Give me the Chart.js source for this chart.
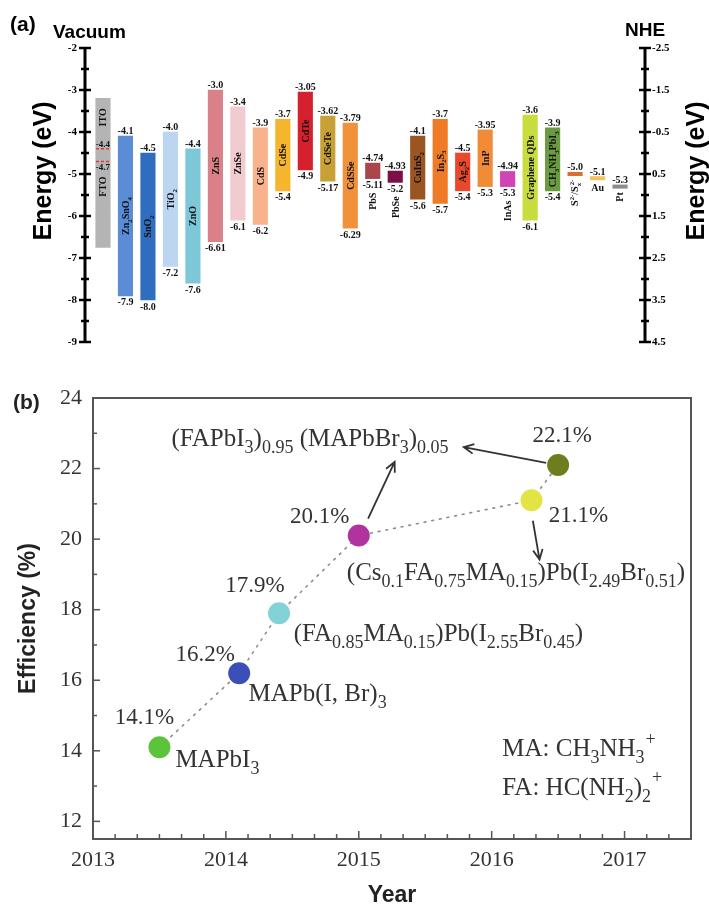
<!DOCTYPE html>
<html>
<head>
<meta charset="utf-8">
<script src="https://cdn.jsdelivr.net/npm/chart.js@4.4.1/dist/chart.umd.min.js"></script>
<style>
  html, body { margin: 0; padding: 0; background: #fff; }
  #wrap { position: relative; width: 709px; height: 905px; }
  #energyChart { position: absolute; left: 0; top: 0; }
  #effChart { position: absolute; left: 0; top: 360px; }
</style>
</head>
<body>
<div id="wrap">
  <canvas id="energyChart" width="709" height="360"></canvas>
  <canvas id="effChart" width="709" height="545"></canvas>
</div>
<script>
/*************************************************
 * DATA - panel (a): band edges vs vacuum (eV)
 *************************************************/
const materials = [
  "FTO/ITO", "Zn_{2}SnO_{4}", "SnO_{2}", "TiO_{2}", "ZnO", "ZnS", "ZnSe", "CdS",
  "CdSe", "CdTe", "CdSeTe", "CdSSe", "PbS", "PbSe", "CuInS_{2}", "In_{2}S_{3}",
  "Ag_{2}S", "InP", "InAs", "Graphene QDs", "CH_{3}NH_{3}PbI_{3}",
  "S^{2-}/S_{x}^{2-}", "Au", "Pt"
];
const bandTop = [
  -3.2, -4.1, -4.5, -4.0, -4.4, -3.0, -3.4, -3.9,
  -3.7, -3.05, -3.62, -3.79, -4.74, -4.93, -4.1, -3.7,
  -4.5, -3.95, -4.94, -3.6, -3.9, -5.0, -5.1, -5.3
];
// null = single level (redox couple / metal work function)
const bandBottom = [
  -6.75, -7.9, -8.0, -7.2, -7.6, -6.61, -6.1, -6.2,
  -5.4, -4.9, -5.17, -6.29, -5.11, -5.2, -5.6, -5.7,
  -5.4, -5.3, -5.3, -6.1, -5.4, null, null, null
];
const barColors = [
  "#b4b4b4", "#5a8dd6", "#2f6ebf", "#bcd5f1", "#7cc8d9", "#d98089", "#f1cbcf", "#f8b38d",
  "#f5b52d", "#d5212d", "#c8a136", "#f0913c", "#a8464b", "#7b1046", "#9a5523", "#f07b27",
  "#e8492c", "#f28b37", "#d243b3", "#c9dc3d", "#6b9b40", "#d8702f", "#f6c25e", "#8c8c8c"
];
const tcoNames = ["ITO", "FTO"];
const tcoLevels = [-4.4, -4.7];
const vacuumTicks = [-2, -3, -4, -5, -6, -7, -8, -9];
const nheTicks = [-2.5, -1.5, -0.5, 0.5, 1.5, 2.5, 3.5, 4.5];

/*************************************************
 * DATA - panel (b): record efficiencies
 *************************************************/
const years = [2013.5, 2014.1, 2014.4, 2015.0, 2016.3, 2016.5];
const efficiency = [14.1, 16.2, 17.9, 20.1, 21.1, 22.1];
const pointColors = ["#5cc43a", "#3c4fb8", "#82d2d6", "#b1339f", "#e2e445", "#6f7d20"];
const compositions = [
  "MAPbI_{3}",
  "MAPb(I, Br)_{3}",
  "(FA_{0.85}MA_{0.15})Pb(I_{2.55}Br_{0.45})",
  "(FAPbI_{3})_{0.95} (MAPbBr_{3})_{0.05}",
  "(Cs_{0.1}FA_{0.75}MA_{0.15})Pb(I_{2.49}Br_{0.51})"
];
const cationNotes = ["MA: CH_{3}NH_{3}^{+}", "FA: HC(NH_{2})_{2}^{+}"];
const yearTicks = [2013, 2014, 2015, 2016, 2017];
const effTicks = [12, 14, 16, 18, 20, 22, 24];


/*************************************************
 * TEXT HELPERS (sub/superscripts)
 *************************************************/
const SERIF = '"Liberation Serif", "DejaVu Serif", serif';
const SANS = '"Liberation Sans", Arial, sans-serif';

function richSegments(str) {
  const segs = [];
  const re = /([_^])\{([^}]*)\}/g;
  let last = 0, m;
  while ((m = re.exec(str))) {
    if (m.index > last) segs.push({ t: str.slice(last, m.index), k: "n" });
    segs.push({ t: m[2], k: m[1] === "_" ? "sub" : "sup" });
    last = re.lastIndex;
  }
  if (last < str.length) segs.push({ t: str.slice(last), k: "n" });
  return segs;
}

// a superscript right after a subscript is tucked over it (shift 0..1 of sub width)
function layoutRich(ctx, str, size, weight, ratio = 0.68, supShift = 0) {
  const items = [];
  let x = 0, prevSub = null;
  richSegments(str).forEach(s => {
    const sz = s.k === "n" ? size : size * ratio;
    ctx.font = `${weight} ${sz}px ${SERIF}`;
    const w = ctx.measureText(s.t).width;
    const stacked = s.k === "sup" && prevSub !== null;
    const sx = stacked ? prevSub.x + prevSub.w * supShift + 1 : x;
    const dy = s.k === "sub" ? size * 0.28 : s.k === "sup" ? -size * 0.45 : 0;
    items.push({ t: s.t, x: sx, dy, sz });
    x = stacked ? Math.max(x, sx + w) : sx + w;
    prevSub = s.k === "sub" ? { x: sx, w } : null;
  });
  return { items, width: x };
}

function drawRich(ctx, str, x, y, size, weight, align, ratio, supShift) {
  const lay = layoutRich(ctx, str, size, weight, ratio, supShift);
  const x0 = align === "center" ? x - lay.width / 2 : x;
  ctx.textAlign = "left";
  ctx.textBaseline = "alphabetic";
  lay.items.forEach(it => {
    ctx.font = `${weight} ${it.sz}px ${SERIF}`;
    ctx.fillText(it.t, x0 + it.x, y + it.dy);
  });
  return lay.width;
}

function drawRichUp(ctx, str, cx, cy, size) {
  ctx.save();
  ctx.translate(cx, cy);
  ctx.rotate(-Math.PI / 2);
  drawRich(ctx, str, 0, size * 0.34, size, "bold", "center");
  ctx.restore();
}

function verticalTitle(ctx, text, cx, cy, size) {
  ctx.save();
  ctx.translate(cx, cy);
  ctx.rotate(-Math.PI / 2);
  ctx.font = `bold ${size}px ${SANS}`;
  ctx.textAlign = "center";
  ctx.textBaseline = "middle";
  ctx.fillText(text, 0, 0);
  ctx.restore();
}

function fmtLevel(v) {
  return Math.round(Math.abs(v) * 100) % 10 === 0 ? v.toFixed(1) : v.toFixed(2);
}


/*************************************************
 * PANEL (a) - ENERGY LEVEL DIAGRAM
 *************************************************/
const LEVEL_HALF = 0.04;   // half thickness of single-level marks, eV

const energyDecor = {
  id: "energyDecor",
  afterDatasetsDraw(chart) {
    const { ctx, chartArea: area } = chart;
    const { x, y, nhe } = chart.scales;
    ctx.save();

    // axis lines with crossing ticks
    ctx.strokeStyle = "#000";
    [[area.left, y, vacuumTicks], [area.right, nhe, nheTicks]].forEach(([ax, sc, ticks]) => {
      ctx.lineWidth = 3;
      ctx.beginPath();
      ctx.moveTo(ax, sc.getPixelForValue(ticks[0]));
      ctx.lineTo(ax, sc.getPixelForValue(ticks[ticks.length - 1]));
      ctx.stroke();
      ctx.lineWidth = 2.5;
      ticks.forEach((v, k) => {
        const py = sc.getPixelForValue(v);
        ctx.beginPath(); ctx.moveTo(ax - 6, py); ctx.lineTo(ax + 6, py); ctx.stroke();
        if (k < ticks.length - 1) {
          const pm = sc.getPixelForValue((v + ticks[k + 1]) / 2);
          ctx.beginPath(); ctx.moveTo(ax - 4, pm); ctx.lineTo(ax + 4, pm); ctx.stroke();
        }
      });
    });

    // band edge values and names
    ctx.fillStyle = "#111";
    materials.forEach((name, i) => {
      if (i === 0) return;
      const cx = x.getPixelForValue(i);
      const isLevel = bandBottom[i] === null;
      const topPx = y.getPixelForValue(bandTop[i] + (isLevel ? LEVEL_HALF : 0));
      ctx.font = `bold 10px ${SERIF}`;
      ctx.textAlign = "center";
      ctx.textBaseline = "alphabetic";
      ctx.fillText(fmtLevel(bandTop[i]), cx, topPx - 2);

      let belowPx;
      if (isLevel) {
        belowPx = y.getPixelForValue(bandTop[i] - LEVEL_HALF) + 4;
      } else {
        const botPx = y.getPixelForValue(bandBottom[i]);
        ctx.textBaseline = "top";
        ctx.fillText(fmtLevel(bandBottom[i]), cx, botPx + 2);
        belowPx = botPx + 14;
        if (bandTop[i] - bandBottom[i] >= 0.6) {
          drawRichUp(ctx, name, cx, (topPx + botPx) / 2, 10);
          return;
        }
      }
      if (name === "Au") {
        ctx.font = `bold 10px ${SERIF}`;
        ctx.textAlign = "center";
        ctx.textBaseline = "top";
        ctx.fillText(name, cx, belowPx);
      } else {
        const w = layoutRich(ctx, name, 10, "bold").width;
        drawRichUp(ctx, name, cx, belowPx + w / 2, 10);
      }
    });

    // FTO / ITO work functions
    const c0 = x.getPixelForValue(0);
    ctx.strokeStyle = "#e8383d";
    ctx.lineWidth = 1.5;
    ctx.setLineDash([3, 2]);
    tcoLevels.forEach(v => {
      const py = y.getPixelForValue(v);
      ctx.beginPath(); ctx.moveTo(c0 - 7, py); ctx.lineTo(c0 + 7, py); ctx.stroke();
    });
    ctx.setLineDash([]);
    ctx.fillStyle = "#111";
    ctx.font = `bold 9px ${SERIF}`;
    ctx.textAlign = "center";
    ctx.textBaseline = "alphabetic";
    ctx.fillText(fmtLevel(tcoLevels[0]), c0, y.getPixelForValue(tcoLevels[0]) - 2);
    ctx.textBaseline = "top";
    ctx.fillText(fmtLevel(tcoLevels[1]), c0, y.getPixelForValue(tcoLevels[1]) + 2);
    drawRichUp(ctx, tcoNames[0], c0, y.getPixelForValue(tcoLevels[0] + 0.75), 10);
    drawRichUp(ctx, tcoNames[1], c0, y.getPixelForValue(tcoLevels[1] - 0.6), 10);

    // headings and axis titles
    ctx.fillStyle = "#000";
    ctx.textAlign = "left";
    ctx.textBaseline = "alphabetic";
    ctx.font = `bold 21px ${SANS}`;
    ctx.fillText("(a)", 10, 31);
    ctx.font = `bold 19px ${SANS}`;
    ctx.fillText("Vacuum", 53, 38);
    ctx.fillText("NHE", 625, 36);
    verticalTitle(ctx, "Energy (eV)", 44, 171, 25);
    verticalTitle(ctx, "Energy (eV)", 697, 171, 25);
    ctx.restore();
  }
};

const energyBars = materials.map((_, i) => ({
  x: i,
  y: bandBottom[i] === null
    ? [bandTop[i] - LEVEL_HALF, bandTop[i] + LEVEL_HALF]
    : [bandBottom[i], bandTop[i]]
}));

new Chart(document.getElementById("energyChart"), {
  type: "bar",
  data: {
    datasets: [{
      data: energyBars,
      backgroundColor: barColors,
      borderWidth: 0,
      barThickness: 14.5
    }]
  },
  options: {
    responsive: false,
    animation: false,
    layout: { padding: { top: 48, bottom: 18, left: 0, right: 0 } },
    plugins: { legend: { display: false }, tooltip: { enabled: false } },
    scales: {
      x: { type: "linear", display: false, offset: false, min: -0.8, max: 24.11 },
      y: {
        type: "linear", position: "left", min: -9, max: -2,
        grid: { display: false, drawTicks: false },
        border: { display: false },
        afterBuildTicks: s => { s.ticks = vacuumTicks.map(v => ({ value: v })); },
        ticks: {
          padding: 8, color: "#000",
          font: { family: SERIF, weight: "bold", size: 11 },
          callback: v => String(v)
        },
        afterFit: s => { s.width = 85; }
      },
      nhe: {
        type: "linear", position: "right", min: -2.5, max: 4.5, reverse: true,
        grid: { display: false, drawTicks: false },
        border: { display: false },
        afterBuildTicks: s => { s.ticks = nheTicks.map(v => ({ value: v })); },
        ticks: {
          padding: 7, color: "#000",
          font: { family: SERIF, weight: "bold", size: 11 },
          callback: v => v.toFixed(1)
        },
        afterFit: s => { s.width = 64; }
      }
    }
  },
  plugins: [energyDecor]
});


/*************************************************
 * PANEL (b) - EFFICIENCY VS YEAR
 *************************************************/
// percent labels: pixel offset of text centre/baseline from its point
const pctOffsets = [[-15, -23], [-34, -12], [-24, -21], [-39, -13], [47, 22], [4, -23]];
// composition labels: left/baseline in data units [year, efficiency]
const compositionAt = [[2013.62, 13.53], [2014.17, 15.4], [2014.51, 17.12], [2013.59, 22.64], [2014.91, 18.85]];
const cationAt = [[2016.08, 13.84], [2016.08, 12.76]];
const arrows = [
  [[2015.07, 20.58], [2015.27, 22.19]],
  [[2016.41, 22.16], [2015.79, 22.61]],
  [[2016.31, 20.52], [2016.36, 19.42]]
];

function drawArrow(ctx, x1, y1, x2, y2) {
  const a = Math.atan2(y2 - y1, x2 - x1);
  ctx.beginPath();
  ctx.moveTo(x1, y1); ctx.lineTo(x2, y2);
  ctx.moveTo(x2 - 11 * Math.cos(a - 0.45), y2 - 11 * Math.sin(a - 0.45));
  ctx.lineTo(x2, y2);
  ctx.lineTo(x2 - 11 * Math.cos(a + 0.45), y2 - 11 * Math.sin(a + 0.45));
  ctx.stroke();
}

const effDecor = {
  id: "effDecor",
  afterDraw(chart) {
    const { ctx, chartArea: area } = chart;
    const { x, y } = chart.scales;
    ctx.save();

    // frame and inward ticks
    ctx.strokeStyle = "#555";
    ctx.lineWidth = 2;
    ctx.strokeRect(area.left, area.top, area.right - area.left, area.bottom - area.top);
    ctx.lineWidth = 1.5;
    for (let v = 12; v < 24; v++) {
      const py = y.getPixelForValue(v);
      const len = v % 2 === 0 ? 7 : 4;
      ctx.beginPath(); ctx.moveTo(area.left, py); ctx.lineTo(area.left + len, py); ctx.stroke();
    }
    for (let k = 1; 2013 + k / 6 < 2017.5; k++) {
      const px = x.getPixelForValue(2013 + k / 6);
      const len = k % 6 === 0 ? 8 : 5;
      ctx.beginPath(); ctx.moveTo(px, area.bottom); ctx.lineTo(px, area.bottom - len); ctx.stroke();
    }

    // labels
    ctx.fillStyle = "#333";
    efficiency.forEach((v, i) => {
      const px = x.getPixelForValue(years[i]) + pctOffsets[i][0];
      const py = y.getPixelForValue(v) + pctOffsets[i][1];
      drawRich(ctx, v.toFixed(1) + "%", px, py, 23, "normal", "center");
    });
    compositions.forEach((txt, i) => {
      drawRich(ctx, txt, x.getPixelForValue(compositionAt[i][0]), y.getPixelForValue(compositionAt[i][1]), 25, "normal", "left", 0.72);
    });
    cationNotes.forEach((txt, i) => {
      drawRich(ctx, txt, x.getPixelForValue(cationAt[i][0]), y.getPixelForValue(cationAt[i][1]), 25, "normal", "left", 0.72, 1);
    });

    // arrows
    ctx.strokeStyle = "#333";
    ctx.lineWidth = 1.8;
    arrows.forEach(([p, q]) => {
      drawArrow(ctx, x.getPixelForValue(p[0]), y.getPixelForValue(p[1]),
        x.getPixelForValue(q[0]), y.getPixelForValue(q[1]));
    });

    // titles
    ctx.fillStyle = "#222";
    ctx.font = `bold 21px ${SANS}`;
    ctx.textAlign = "left";
    ctx.textBaseline = "alphabetic";
    ctx.fillText("(b)", 13, 49);
    ctx.font = `bold 23px ${SANS}`;
    ctx.textAlign = "center";
    ctx.fillText("Year", (area.left + area.right) / 2, 542);
    verticalTitle(ctx, "Efficiency (%)", 29, (area.top + area.bottom) / 2, 23);
    ctx.restore();
  }
};

new Chart(document.getElementById("effChart"), {
  type: "scatter",
  data: {
    datasets: [{
      data: years.map((yr, i) => ({ x: yr, y: efficiency[i] })),
      showLine: true,
      borderColor: "#8c8c8c",
      borderWidth: 1.6,
      borderDash: [1.8, 6],
      borderCapStyle: "round",
      pointRadius: 11,
      pointHoverRadius: 11,
      pointBorderWidth: 0,
      pointBackgroundColor: pointColors,
      pointBorderColor: pointColors
    }]
  },
  options: {
    responsive: false,
    animation: false,
    layout: { padding: { top: 38, right: 18, left: 0, bottom: 0 } },
    plugins: { legend: { display: false }, tooltip: { enabled: false } },
    scales: {
      x: {
        type: "linear", min: 2013, max: 2017.5,
        grid: { display: false, drawTicks: false },
        border: { display: false },
        afterBuildTicks: s => { s.ticks = yearTicks.map(v => ({ value: v })); },
        ticks: { padding: 8, color: "#333", font: { family: SERIF, size: 22 }, callback: v => String(v) },
        afterFit: s => { s.height = 66; }
      },
      y: {
        type: "linear", min: 11.5, max: 24,
        grid: { display: false, drawTicks: false },
        border: { display: false },
        afterBuildTicks: s => { s.ticks = effTicks.map(v => ({ value: v })); },
        ticks: { padding: 11, color: "#333", font: { family: SERIF, size: 22 }, callback: v => String(v) },
        afterFit: s => { s.width = 93; }
      }
    }
  },
  plugins: [effDecor]
});
</script>
</body>
</html>
